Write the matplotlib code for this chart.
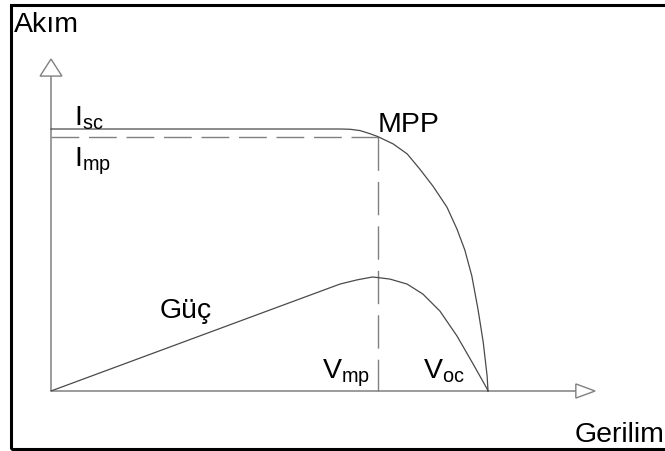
import numpy as np
import matplotlib.pyplot as plt
from matplotlib.patches import Polygon, Rectangle

plt.rcParams['font.family'] = ['Liberation Sans', 'DejaVu Sans']
plt.rcParams['mathtext.fontset'] = 'custom'
plt.rcParams['mathtext.rm'] = 'Liberation Sans'

# I-V egrisi (gerilim Voc'ye, akim Isc'ye gore normalize)
gerilim_iv = [0.0, 0.661, 0.684, 0.707, 0.730, 0.748, 0.783, 0.815, 0.844, 0.874,
              0.906, 0.929, 0.947, 0.963, 0.977, 0.989, 0.998, 1.0]
akim_iv = [1.0, 1.0, 0.999, 0.994, 0.982, 0.971, 0.943, 0.905, 0.847, 0.782,
           0.702, 0.618, 0.538, 0.439, 0.313, 0.187, 0.057, 0.0]

# guc egrisi (ayni eksende olceklenmis)
gerilim_p = [0.0, 0.661, 0.700, 0.735, 0.748, 0.776, 0.815, 0.851, 0.890, 0.929, 0.966, 0.998, 1.0]
guc_p = [0.0, 0.408, 0.424, 0.435, 0.433, 0.427, 0.408, 0.370, 0.305, 0.210, 0.103, 0.008, 0.0]

V_mp, I_mp = 0.748, 0.971
V_oc, I_sc = 1.0, 1.0
x_eksen_son = 1.201
y_eksen_son = 1.202

eksen_renk = '#808080'
egri_renk = '#4a4a4a'

fig = plt.figure(figsize=(6.65, 4.52), dpi=100)
ax = fig.add_axes([0, 0, 1, 1])
ax.set_xlim(-51 / 437, 614 / 437)
ax.set_ylim(-60 / 262, 392 / 262)
ax.axis('off')

# eksenler
ax.plot([0, x_eksen_son], [0, 0], color=eksen_renk, lw=1.1, solid_capstyle='butt')
ax.plot([0, 0], [0, y_eksen_son], color=eksen_renk, lw=1.1, solid_capstyle='butt')
ax.add_patch(Polygon([[x_eksen_son, -0.027], [x_eksen_son + 0.044, 0], [x_eksen_son, 0.027]],
                     closed=True, fill=False, ec=eksen_renk, lw=1.0))
ax.add_patch(Polygon([[-0.025, y_eksen_son], [0, y_eksen_son + 0.065], [0.025, y_eksen_son]],
                     closed=True, fill=False, ec=eksen_renk, lw=1.0))

# kesikli cizgiler
ax.plot([0, V_mp], [I_mp, I_mp], color=eksen_renk, lw=1.0, dashes=(20, 7))
ax.plot([V_mp, V_mp], [I_mp, 0], color=eksen_renk, lw=1.0, dashes=(24, 8))

# egriler
ax.plot(gerilim_iv, akim_iv, color=egri_renk, lw=0.9)
ax.plot(gerilim_p, guc_p, color=egri_renk, lw=0.9)

fs = 20.5
ax.text(-0.085, 1.374, 'Akım', fontsize=fs, ha='left', va='baseline')
ax.text(1.199, -0.191, 'Gerilim', fontsize=fs, ha='left', va='baseline')
ax.text(0.053, 1.019, r'$\mathregular{I_{sc}}$', fontsize=fs, ha='left', va='baseline')
ax.text(0.053, 0.859, r'$\mathregular{I_{mp}}$', fontsize=fs, ha='left', va='baseline')
ax.text(0.748, 0.992, 'MPP', fontsize=fs, ha='left', va='baseline')
ax.text(0.249, 0.282, 'Güç', fontsize=fs, ha='left', va='baseline')
ax.text(0.620, 0.050, r'$\mathregular{V_{mp}}$', fontsize=fs, ha='left', va='baseline')
ax.text(0.851, 0.050, r'$\mathregular{V_{oc}}$', fontsize=fs, ha='left', va='baseline')

# cerceve
fig.patches.append(Rectangle((10.5 / 665, 2.5 / 452), 0.99, 444 / 452, transform=fig.transFigure,
                             fill=False, ec='black', lw=2.2))

fig.savefig('out.png', dpi=100)
